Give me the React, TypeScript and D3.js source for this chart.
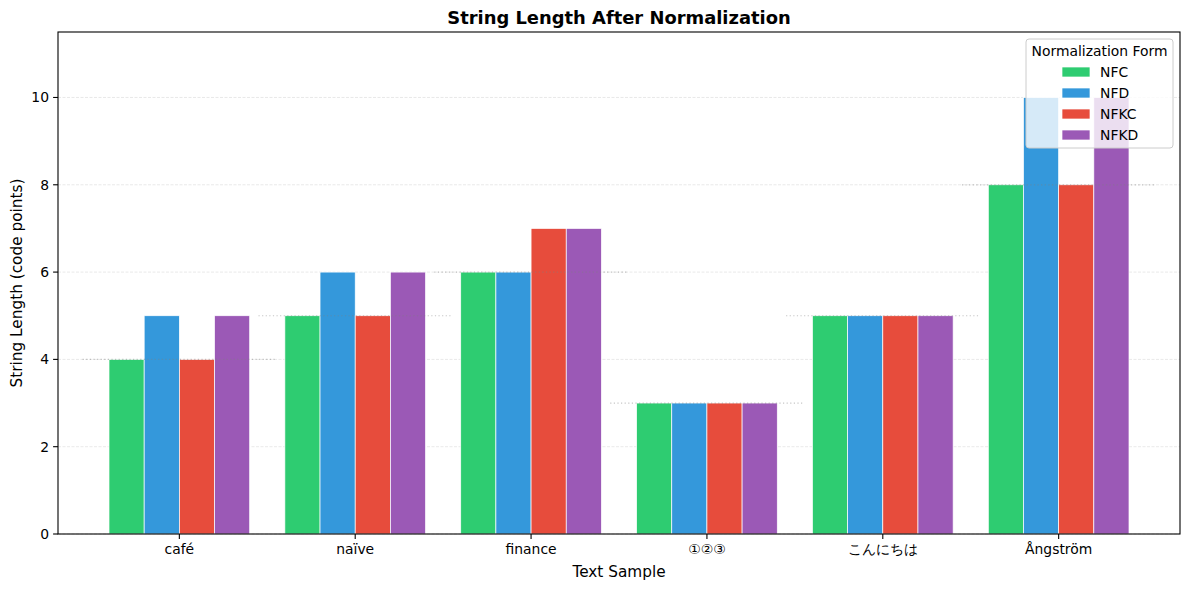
import React from 'react';
import * as d3 from 'd3';

const categories = ['café', 'naïve', 'ﬁnance', '①②③', 'こんにちは', 'Ångström'];
const forms = ['NFC', 'NFD', 'NFKC', 'NFKD'];
const nfc = [4, 5, 6, 3, 5, 8];
const nfd = [5, 6, 6, 3, 5, 10];
const nfkc = [4, 5, 7, 3, 5, 8];
const nfkd = [5, 6, 7, 3, 5, 10];
const original = [4, 5, 6, 3, 5, 8];
const yTicks = [0, 2, 4, 6, 8, 10];
const colors = ['#2ecc71', '#3498db', '#e74c3c', '#9b59b6'];

const W = 1189;
const H = 590;
const font = '"DejaVu Sans", sans-serif';

const App: React.FC = () => {
  const series = [nfc, nfd, nfkc, nfkd];
  const left = 58;
  const right = 1180;
  const top = 32;
  const bottom = 534;
  const x = d3.scaleLinear().domain([-0.69, 5.69]).range([left, right]);
  const y = d3.scaleLinear().domain([0, 11.5]).range([bottom, top]);
  const bw = 0.2;

  return (
    <svg
      width={W}
      height={H}
      style={{ position: 'absolute', left: 0, top: 0, background: '#fff' }}
      fontFamily={font}
    >
      {/* grid */}
      {yTicks.map((t) => (
        <line
          key={'g' + t}
          x1={left}
          x2={right}
          y1={y(t)}
          y2={y(t)}
          stroke="#b0b0b0"
          strokeOpacity={0.35}
          strokeWidth={0.8}
          strokeDasharray="3,1.5"
        />
      ))}

      {/* bars */}
      {series.map((vals, j) =>
        vals.map((v, i) => {
          const x0 = x(i + (j - 1.5) * bw - bw / 2);
          const x1 = x(i + (j - 1.5) * bw + bw / 2);
          return (
            <rect
              key={`b${j}-${i}`}
              x={x0}
              y={y(v)}
              width={x1 - x0}
              height={y(0) - y(v)}
              fill={colors[j]}
              stroke="#fff"
              strokeWidth={0.7}
            />
          );
        }),
      )}

      {/* original length markers */}
      {original.map((v, i) => (
        <line
          key={'o' + i}
          x1={x(i - 0.55)}
          x2={x(i + 0.55)}
          y1={y(v)}
          y2={y(v)}
          stroke="#808080"
          strokeOpacity={0.45}
          strokeWidth={1.2}
          strokeDasharray="1.2,2.4"
        />
      ))}

      {/* frame */}
      <rect x={left} y={top} width={right - left} height={bottom - top} fill="none" stroke="#000" strokeWidth={1.1} />

      {/* y axis */}
      {yTicks.map((t) => (
        <g key={'y' + t}>
          <line x1={left - 4.9} x2={left} y1={y(t)} y2={y(t)} stroke="#000" strokeWidth={1.1} />
          <text x={left - 9} y={y(t)} dy="0.35em" textAnchor="end" fontSize={13.9}>
            {t}
          </text>
        </g>
      ))}

      {/* x axis */}
      {categories.map((c, i) => (
        <g key={'x' + i}>
          <line x1={x(i)} x2={x(i)} y1={bottom} y2={bottom + 4.9} stroke="#000" strokeWidth={1.1} />
          <text x={x(i)} y={bottom + 20} textAnchor="middle" fontSize={13.9}>
            {c}
          </text>
        </g>
      ))}

      <text x={(left + right) / 2} y={577} textAnchor="middle" fontSize={15.3}>
        Text Sample
      </text>
      <text
        transform={`translate(22,${(top + bottom) / 2}) rotate(-90)`}
        textAnchor="middle"
        fontSize={15.3}
      >
        String Length (code points)
      </text>
      <text x={(left + right) / 2} y={24} textAnchor="middle" fontSize={17.9} fontWeight="bold">
        String Length After Normalization
      </text>

      {/* legend */}
      <g>
        <rect x={1026} y={39} width={147} height={109} rx={3} fill="#fff" fillOpacity={0.8} stroke="#ccc" strokeWidth={1} />
        <text x={1099.5} y={56} textAnchor="middle" fontSize={13.9}>
          Normalization Form
        </text>
        {forms.map((f, j) => (
          <g key={'l' + f}>
            <rect x={1062} y={67 + j * 21} width={28} height={10} fill={colors[j]} stroke="#fff" strokeWidth={0.7} />
            <text x={1100} y={72 + j * 21} dy="0.35em" fontSize={13.9}>
              {f}
            </text>
          </g>
        ))}
      </g>
    </svg>
  );
};

export default App;
